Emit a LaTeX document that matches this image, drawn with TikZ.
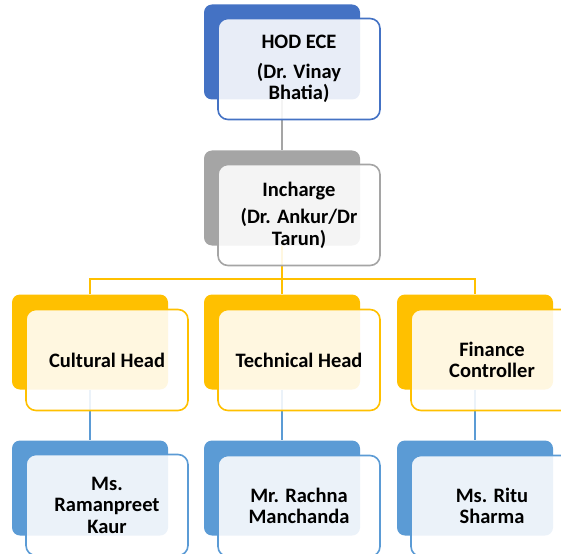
\documentclass[tikz,border=0pt]{standalone}
\usepackage{fontspec}
\setmainfont{Carlito}
\begin{document}
\begin{tikzpicture}[x=1pt,y=-1pt,
  backbox/.style={rounded corners=8pt, minimum width=156pt, minimum height=95pt, inner sep=0pt, draw=none},
  frontbox/.style={rounded corners=10pt, minimum width=162pt, minimum height=101pt, inner sep=0pt,
     fill=white, fill opacity=0.88, text opacity=1, line width=1.6pt, align=center,
     font=\fontsize{20.5}{21.5}\selectfont\bfseries},
  conn/.style={line width=2pt}
]
\definecolor{cblue}{HTML}{4472C4}
\definecolor{cgray}{HTML}{A5A5A5}
\definecolor{cgold}{HTML}{FFC000}
\definecolor{csky}{HTML}{5B9BD5}
\useasboundingbox (0,0) rectangle (561,553);
\clip (0,0) rectangle (561,553);
% back boxes
\node[backbox, fill=cblue] (b1) at (282,52) {};
\node[backbox, fill=cgray] (b2) at (282,198) {};
\node[backbox, fill=cgold] (b3) at (90,342) {};
\node[backbox, fill=cgold] (b4) at (282,342) {};
\node[backbox, fill=cgold] (b5) at (475,342) {};
\node[backbox, fill=csky] (b6) at (90,488) {};
\node[backbox, fill=csky] (b7) at (282,488) {};
\node[backbox, fill=csky] (b8) at (475,488) {};
% connectors
\coordinate (j) at (282,279);
\draw[conn, cgray] (b1.south) -- (b2.north);
\draw[conn, cgold] (b2.south) -- (j);
\draw[conn, cgold] (b3.north) |- (j) -| (b5.north);
\draw[conn, cgold] (j) -- (b4.north);
\draw[conn, csky] (b3.south) -- (b6.north);
\draw[conn, csky] (b4.south) -- (b7.north);
\draw[conn, csky] (b5.south) -- (b8.north);
% front boxes
\node[frontbox, draw=cblue] (f1) at (299,69) {HOD ECE\\[8pt](Dr. Vinay\\Bhatia)};
\node[frontbox, draw=cgray] (f2) at (299,215) {Incharge\\[6pt](Dr. Ankur/Dr\\Tarun)};
\node[frontbox, draw=cgold] (f3) at (107,360) {Cultural Head};
\node[frontbox, draw=cgold] (f4) at (299,360) {Technical Head};
\node[frontbox, draw=cgold] (f5) at (492,360) {Finance\\Controller};
\node[frontbox, draw=csky] (f6) at (107,505) {Ms.\\Ramanpreet\\Kaur};
\node[frontbox, draw=csky] (f7) at (299,506) {Mr. Rachna\\Manchanda};
\node[frontbox, draw=csky] (f8) at (492,506) {Ms. Ritu\\Sharma};
\end{tikzpicture}
\end{document}
